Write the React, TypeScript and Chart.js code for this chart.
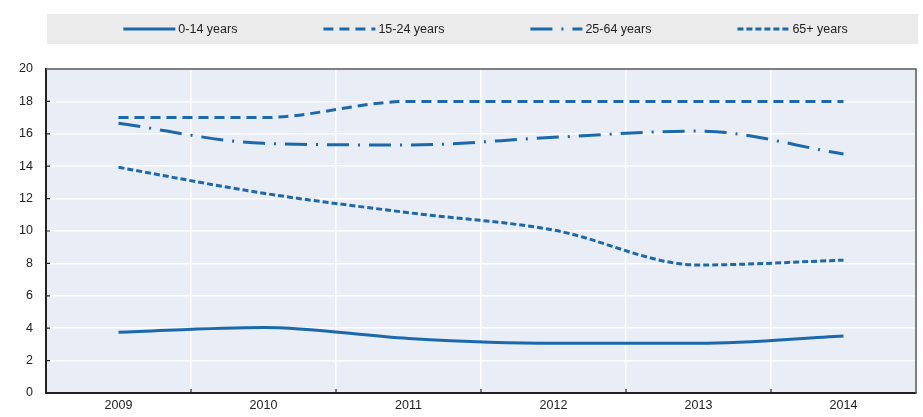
import * as React from 'react';
import { Chart, registerables } from 'chart.js';

Chart.register(...registerables);

// données
const years = ['2009', '2010', '2011', '2012', '2013', '2014'];
const age0to14 = [3.75, 4.05, 3.37, 3.07, 3.07, 3.52];
const age15to24 = [17, 17, 18, 18, 18, 18];
const age25to64 = [16.65, 15.41, 15.31, 15.78, 16.17, 14.75];
const age65plus = [13.93, 12.33, 11.13, 10.06, 7.9, 8.2];
const seriesLabels = ['0-14 years', '15-24 years', '25-64 years', '65+ years'];
const yMin = 0;
const yMax = 20;
const yStep = 2;

const BLUE = '#1b68ad';
const FONT = '"Liberation Sans", Arial, sans-serif';
const dashes = [[], [10, 6], [22, 9, 2, 9], [6, 3]];

// fond gris clair de la zone du graphique + légende dessinée à la main
const backgroundPlugin = {
    id: 'plotBackground',
    beforeDraw(chart: any) {
        const { ctx, chartArea } = chart;
        ctx.save();
        ctx.fillStyle = '#e9edf5';
        ctx.fillRect(chartArea.left, chartArea.top, chartArea.right - chartArea.left, chartArea.bottom - chartArea.top);

        // boîte de légende
        const boxLeft = 47;
        const boxRight = 918;
        const boxTop = 14;
        const boxBottom = 44;
        ctx.fillStyle = '#ebebeb';
        ctx.fillRect(boxLeft, boxTop, boxRight - boxLeft, boxBottom - boxTop);

        ctx.font = '12.5px ' + FONT;
        const sample = 52;
        const gap = 3;
        const spacing = 86;
        const sets = chart.data.datasets;
        const widths = sets.map((d: any) => sample + gap + ctx.measureText(d.label).width);
        const total = widths.reduce((a: number, b: number) => a + b, 0) + spacing * (sets.length - 1);
        let x = (boxLeft + boxRight) / 2 - total / 2 + 3;
        const y = (boxTop + boxBottom) / 2;
        sets.forEach((d: any, i: number) => {
            ctx.beginPath();
            ctx.setLineDash(d.borderDash || []);
            ctx.strokeStyle = d.borderColor;
            ctx.lineWidth = 3;
            ctx.moveTo(x, y);
            ctx.lineTo(x + sample, y);
            ctx.stroke();
            ctx.setLineDash([]);
            ctx.fillStyle = '#222';
            ctx.textBaseline = 'middle';
            ctx.textAlign = 'left';
            ctx.fillText(d.label, x + sample + gap, y + 1);
            x += widths[i] + spacing;
        });
        ctx.restore();
    },
    afterDraw(chart: any) {
        const { ctx, chartArea, scales } = chart;
        ctx.save();
        // cadre haut et droite
        ctx.strokeStyle = '#555';
        ctx.lineWidth = 1.5;
        ctx.beginPath();
        ctx.moveTo(chartArea.left, chartArea.top);
        ctx.lineTo(chartArea.right, chartArea.top);
        ctx.lineTo(chartArea.right, chartArea.bottom);
        ctx.stroke();

        // petites graduations vers l'intérieur
        ctx.strokeStyle = '#222';
        ctx.lineWidth = 1.2;
        ctx.beginPath();
        scales.y.ticks.forEach((t: any, i: number) => {
            if (i === 0 || i === scales.y.ticks.length - 1) return;
            const py = scales.y.getPixelForTick(i);
            ctx.moveTo(chartArea.left, py);
            ctx.lineTo(chartArea.left + 4, py);
        });
        const xs = scales.x;
        for (let i = 1; i < years.length; i++) {
            const px = (xs.getPixelForTick(i - 1) + xs.getPixelForTick(i)) / 2;
            ctx.moveTo(px, chartArea.bottom);
            ctx.lineTo(px, chartArea.bottom - 4);
        }
        ctx.stroke();
        ctx.restore();
    },
};

const App = () => {
    const canvasRef = React.useRef<HTMLCanvasElement | null>(null);
    const chartInstance = React.useRef<Chart | null>(null);

    React.useEffect(() => {
        if (!canvasRef.current) return;
        const values = [age0to14, age15to24, age25to64, age65plus];
        chartInstance.current = new Chart(canvasRef.current, {
            type: 'line',
            data: {
                labels: years,
                datasets: values.map((v, i) => ({
                    label: seriesLabels[i],
                    data: v,
                    borderColor: BLUE,
                    borderWidth: 3,
                    borderDash: dashes[i],
                    pointRadius: 0,
                    fill: false,
                    cubicInterpolationMode: 'monotone' as const,
                })),
            },
            options: {
                animation: false,
                responsive: true,
                maintainAspectRatio: false,
                layout: { padding: { top: 69, right: 7, left: 0, bottom: 0 } },
                plugins: {
                    legend: { display: false },
                    tooltip: { enabled: false },
                },
                scales: {
                    x: {
                        offset: true,
                        afterFit: (s: any) => { s.height = 24; },
                        grid: { offset: true, color: '#ffffff', lineWidth: 1.5, drawTicks: false },
                        border: { color: '#222', width: 2 },
                        ticks: { padding: 5, color: '#222', font: { family: FONT, size: 12.5 } },
                    },
                    y: {
                        min: yMin,
                        max: yMax,
                        afterFit: (s: any) => { s.width = 46; },
                        grid: { color: '#ffffff', lineWidth: 1.5, drawTicks: false },
                        border: { color: '#222', width: 2 },
                        ticks: { stepSize: yStep, padding: 13, color: '#222', font: { family: FONT, size: 12.5 } },
                    },
                },
            },
            plugins: [backgroundPlugin],
        });

        return () => {
            if (chartInstance.current) {
                chartInstance.current.destroy();
                chartInstance.current = null;
            }
        };
    }, []);

    return (
        <div style={{ position: 'fixed', left: 0, top: 0, width: 923, height: 417, background: '#fff' }}>
            <canvas ref={canvasRef} />
        </div>
    );
};

export default App;
